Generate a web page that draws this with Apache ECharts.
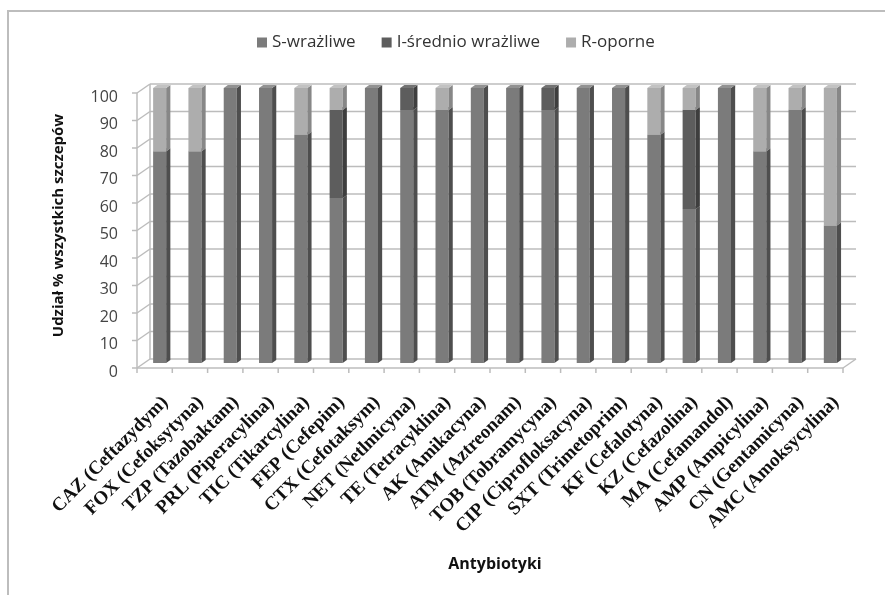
<!DOCTYPE html>
<html>
<head>
<meta charset="utf-8">
<script src="https://cdn.jsdelivr.net/npm/echarts@6/dist/echarts.min.js"></script>
<style>
  html, body { margin: 0; padding: 0; background: #fff; }
  #chart { width: 885px; height: 595px; }
</style>
</head>
<body>
<div id="chart"></div>
<script>
// Antibiotic susceptibility profile, % of all strains
const categories = [
  'CAZ (Ceftazydym)', 'FOX (Cefoksytyna)', 'TZP (Tazobaktam)', 'PRL (Piperacylina)',
  'TIC (Tikarcylina)', 'FEP (Cefepim)', 'CTX (Cefotaksym)', 'NET (Netlmicyna)',
  'TE (Tetracyklina)', 'AK (Amikacyna)', 'ATM (Aztreonam)', 'TOB (Tobramycyna)',
  'CIP (Ciprofloksacyna)', 'SXT (Trimetoprim)', 'KF (Cefalotyna)', 'KZ (Cefazolina)',
  'MA (Cefamandol)', 'AMP (Ampicylina)', 'CN (Gentamicyna)', 'AMC (Amoksycylina)'
];
const seriesNames = ['S-wrażliwe', 'I-średnio wrażliwe', 'R-oporne'];
const sensitive    = [77, 77, 100, 100, 83, 60, 100, 92, 92, 100, 100, 92, 100, 100, 83, 56, 100, 77, 92, 50];
const intermediate = [ 0,  0,   0,   0,  0, 32,   0,  8,  0,   0,   0,  8,   0,   0,  0, 36,   0,  0,  0,  0];
const resistant    = [23, 23,   0,   0, 17,  8,   0,  0,  8,   0,   0,  0,   0,   0, 17,  8,   0, 23,  8, 50];
const yTicks = [0, 10, 20, 30, 40, 50, 60, 70, 80, 90, 100];

// face colours: front, side, top
const palette = [
  { front: '#7b7b7b', side: '#4e4e4e', top: '#929292' },
  { front: '#5d5d5d', side: '#3e3e3e', top: '#727272' },
  { front: '#adadad', side: '#878787', top: '#c2c2c2' }
];

const gridLine = '#bcbcbc';
const FRONT = [-5, 5];   // front edge of the 3D box relative to the bar plane
const BACK = [8, -4];    // back wall relative to the bar plane

// stacked segments: [category, base, top]
function stackData(layers) {
  const out = layers.map(() => []);
  categories.forEach((_, i) => {
    let base = 0;
    layers.forEach((arr, k) => {
      const v = arr[i];
      if (v > 0) out[k].push([i, base, base + v]);
      base += v;
    });
  });
  return out;
}
const stacked = stackData([sensitive, intermediate, resistant]);

function barRenderer(k) {
  const c = palette[k];
  return function (params, api) {
    const x = api.value(0);
    const p0 = api.coord([x, api.value(1)]);
    const p1 = api.coord([x, api.value(2)]);
    const band = api.size([1, 0])[0];
    const bw = band * 0.37;
    const dx = bw * 0.32, dy = -3;
    const xl = p0[0] - bw / 2, xr = p0[0] + bw / 2;
    return {
      type: 'group',
      children: [
        { type: 'rect', shape: { x: xl, y: p1[1], width: bw, height: p0[1] - p1[1] },
          style: { fill: c.front } },
        { type: 'polygon', shape: { points: [[xr, p1[1]], [xr + dx, p1[1] + dy], [xr + dx, p0[1] + dy], [xr, p0[1]]] },
          style: { fill: c.side } },
        { type: 'polygon', shape: { points: [[xl, p1[1]], [xl + dx, p1[1] + dy], [xr + dx, p1[1] + dy], [xr, p1[1]]] },
          style: { fill: c.top } }
      ]
    };
  };
}

// 3D box: back-wall gridlines, left side wall, floor and ticks
function frameRenderer(params, api) {
  const band = api.size([1, 0])[0];
  const n = categories.length;
  const left = api.coord([0, 0])[0] - band / 2;
  const right = api.coord([n - 1, 0])[0] + band / 2;
  const lineStyle = { stroke: gridLine, lineWidth: 1.5, fill: null };
  const children = [];
  const y0 = api.coord([0, yTicks[0]])[1];
  const yMax = api.coord([0, yTicks[yTicks.length - 1]])[1];
  yTicks.forEach(v => {
    const y = api.coord([0, v])[1];
    children.push({ type: 'line', shape: { x1: left + BACK[0], y1: y + BACK[1], x2: right + BACK[0], y2: y + BACK[1] }, style: lineStyle });
    children.push({ type: 'line', shape: { x1: left + FRONT[0], y1: y + FRONT[1], x2: left + BACK[0], y2: y + BACK[1] }, style: lineStyle });
    children.push({ type: 'line', shape: { x1: left + FRONT[0] - 5, y1: y + FRONT[1], x2: left + FRONT[0], y2: y + FRONT[1] }, style: lineStyle });
  });
  children.push({ type: 'line', shape: { x1: left + FRONT[0], y1: y0 + FRONT[1], x2: left + FRONT[0], y2: yMax + FRONT[1] }, style: lineStyle });
  children.push({ type: 'line', shape: { x1: left + BACK[0], y1: y0 + BACK[1], x2: left + BACK[0], y2: yMax + BACK[1] }, style: lineStyle });
  children.push({ type: 'line', shape: { x1: left + FRONT[0], y1: y0 + FRONT[1], x2: right + FRONT[0], y2: y0 + FRONT[1] }, style: lineStyle });
  children.push({ type: 'line', shape: { x1: right + FRONT[0], y1: y0 + FRONT[1], x2: right + BACK[0], y2: y0 + BACK[1] }, style: lineStyle });
  for (let i = 0; i <= n; i++) {
    const x = left + i * band + FRONT[0];
    children.push({ type: 'line', shape: { x1: x, y1: y0 + FRONT[1], x2: x, y2: y0 + FRONT[1] + 5 }, style: lineStyle });
  }
  return { type: 'group', children };
}

const chart = echarts.init(document.getElementById('chart'), null, { renderer: 'canvas' });

const series = [{
  type: 'custom',
  name: '__frame',
  silent: true,
  z: 1,
  data: [[0, 0, 0]],
  renderItem: frameRenderer
}];
seriesNames.forEach((name, k) => {
  series.push({
    type: 'custom',
    name,
    z: 2,
    itemStyle: { color: palette[k].front },
    data: stacked[k],
    encode: { x: 0, y: [1, 2] },
    renderItem: barRenderer(k)
  });
});

chart.setOption({
  animation: false,
  backgroundColor: '#fff',
  graphic: [
    { type: 'polyline', silent: true,
      shape: { points: [[8, 595], [8, 11], [885, 11]] },
      style: { stroke: '#bdbdbd', lineWidth: 2, fill: null } }
  ],
  legend: {
    data: seriesNames,
    left: 252,
    top: 29,
    icon: 'rect',
    itemWidth: 10,
    itemHeight: 10,
    itemGap: 26,
    textStyle: { fontFamily: 'Open Sans', fontSize: 17, color: '#333' }
  },
  grid: { left: 142, right: 37, top: 88, bottom: 232 },
  xAxis: {
    type: 'category',
    data: categories,
    name: 'Antybiotyki',
    nameLocation: 'middle',
    nameGap: 193,
    nameTextStyle: { fontFamily: 'Open Sans', fontWeight: 'bold', fontSize: 16, color: '#111' },
    axisLine: { show: false },
    axisTick: { show: false },
    axisLabel: {
      interval: 0,
      rotate: 45,
      margin: 31,
      verticalAlign: 'top',
      lineHeight: 16,
      fontFamily: 'Liberation Serif',
      fontWeight: 'bold',
      fontSize: 19,
      color: '#111'
    }
  },
  yAxis: {
    type: 'value',
    min: yTicks[0],
    max: yTicks[yTicks.length - 1],
    interval: 10,
    name: 'Udział % wszystkich szczepów',
    nameLocation: 'middle',
    nameGap: 76,
    nameTextStyle: { fontFamily: 'Open Sans', fontWeight: 'bold', fontSize: 15, color: '#111' },
    axisLine: { show: false },
    axisTick: { show: false },
    splitLine: { show: false },
    axisLabel: {
      margin: 24,
      verticalAlign: 'top',
      lineHeight: 18,
      fontFamily: 'Open Sans',
      fontSize: 16,
      color: '#444'
    }
  },
  series
});
</script>
</body>
</html>
